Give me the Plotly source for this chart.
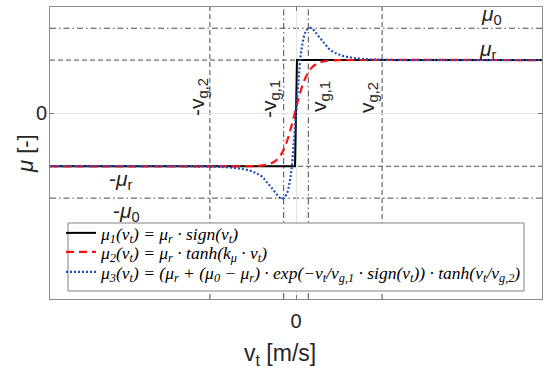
import plotly.graph_objects as go

# ---------------- data ----------------
mu_r = 0.5
mu_0 = 0.8
v_g1 = 0.015
v_g2 = 0.105
x_range = [-0.3, 0.3]
y_range = [-1.75, 1.0]
x_ticks = [0]
y_ticks = [0]

# mu_1 : sign model
v_sign = [-0.3, -0.0012, 0.0012, 0.3]
mu_sign = [-0.5, -0.5, 0.5, 0.5]

# mu_2 : tanh model
v_tanh = [-0.3, -0.06, -0.045, -0.035, -0.027, -0.020, -0.015, -0.010, -0.005, 0.0,
          0.005, 0.010, 0.015, 0.020, 0.027, 0.035, 0.045, 0.06, 0.3]
mu_tanh = [-0.5, -0.499, -0.496, -0.484, -0.46, -0.409, -0.342, -0.241, -0.107, 0.046,
           0.191, 0.306, 0.385, 0.435, 0.472, 0.489, 0.497, 0.5, 0.5]

# mu_3 : Stribeck-like model
v_exp = [-0.3, -0.13, -0.102, -0.087, -0.070, -0.057, -0.050, -0.041, -0.035, -0.029,
         -0.023, -0.020, -0.017, -0.0145, -0.011, -0.008, -0.0055, -0.003, 0.0,
         0.003, 0.0055, 0.008, 0.011, 0.0145, 0.017, 0.020, 0.023, 0.029, 0.035,
         0.041, 0.050, 0.057, 0.070, 0.087, 0.102, 0.13, 0.3]
mu_exp = [-0.5, -0.5, -0.503, -0.508, -0.52, -0.54, -0.56, -0.6, -0.655, -0.71,
          -0.77, -0.795, -0.805, -0.795, -0.755, -0.66, -0.53, -0.30, 0.0,
          0.30, 0.53, 0.66, 0.755, 0.795, 0.805, 0.795, 0.77, 0.71, 0.655,
          0.6, 0.56, 0.54, 0.52, 0.508, 0.503, 0.5, 0.5]

legend_labels = [
    "μ<sub>1</sub>(v<sub>t</sub>) = μ<sub>r</sub> · sign(v<sub>t</sub>)",
    "μ<sub>2</sub>(v<sub>t</sub>) = μ<sub>r</sub> · tanh(k<sub>μ</sub> · v<sub>t</sub>)",
    "μ<sub>3</sub>(v<sub>t</sub>) = (μ<sub>r</sub> + (μ<sub>0</sub> − μ<sub>r</sub>) · "
    "exp(−v<sub>t</sub>/v<sub>g,1</sub> · sign(v<sub>t</sub>)) · tanh(v<sub>t</sub>/v<sub>g,2</sub>)",
]

# ---------------- layout helpers ----------------
W, H = 550, 376
L, R, T, B = 50, 8, 7, 77
PW, PH = W - L - R, H - T - B


def px(x):
    return (x - L) / PW


def py(y):
    return (H - B - y) / PH


fig = go.Figure()
fig.add_trace(go.Scatter(x=v_sign, y=mu_sign, mode="lines", name=legend_labels[0],
                         legend="legend",
                         line=dict(color="black", width=2)))
fig.add_trace(go.Scatter(x=v_tanh, y=mu_tanh, mode="lines", name=legend_labels[1],
                         legend="legend2",
                         line=dict(color="#ff1010", width=2.2, dash="8px,5px", shape="spline")))
fig.add_trace(go.Scatter(x=v_exp, y=mu_exp, mode="lines", name=legend_labels[2],
                         legend="legend3",
                         line=dict(color="#1f4fbf", width=2.2, dash="2px,2px", shape="spline")))

ref_col = "#4a4a4a"
dash_s = "5px,3px"
dashdot_s = "6px,3px,1.5px,3px"
shapes = []
for lev in [mu_r, -mu_r]:
    shapes.append(dict(type="line", xref="paper", x0=0, x1=1, yref="y", y0=lev, y1=lev,
                       line=dict(color=ref_col, width=1, dash=dash_s), layer="below"))
for lev in [mu_0, -mu_0]:
    shapes.append(dict(type="line", xref="paper", x0=0, x1=1, yref="y", y0=lev, y1=lev,
                       line=dict(color=ref_col, width=1, dash=dashdot_s), layer="below"))
for v in [v_g2, -v_g2]:
    shapes.append(dict(type="line", yref="paper", y0=0, y1=1, xref="x", x0=v, x1=v,
                       line=dict(color=ref_col, width=1, dash=dash_s), layer="below"))
for v in [v_g1, -v_g1]:
    shapes.append(dict(type="line", yref="paper", y0=0, y1=1, xref="x", x0=v, x1=v,
                       line=dict(color=ref_col, width=1, dash=dashdot_s), layer="below"))
# legend frame (white box that hides the lines behind the legend)
shapes.append(dict(type="rect", xref="paper", yref="paper",
                   x0=px(68), x1=px(524), y0=py(291), y1=py(223),
                   fillcolor="white", line=dict(color="#808080", width=1), layer="above"))

sans = "Liberation Sans, Arial, sans-serif"
tcol = "#262626"
afont = dict(family=sans, size=21, color=tcol)

annotations = []
# horizontal level labels
for txt, cx, cy in [("<i>μ</i><sub>0</sub>", 491, 15), ("<i>μ</i><sub>r</sub>", 488, 50),
                    ("-<i>μ</i><sub>r</sub>", 121, 180), ("-<i>μ</i><sub>0</sub>", 126, 212)]:
    annotations.append(dict(text=txt, x=px(cx), y=py(cy), xref="paper", yref="paper",
                            xanchor="center", yanchor="middle", showarrow=False, font=afont))
# vertical velocity labels (rotated)
for txt, cx, cy in [("-v<sub>g,2</sub>", 198, 97), ("-v<sub>g,1</sub>", 270, 99),
                    ("v<sub>g,1</sub>", 320, 97), ("v<sub>g,2</sub>", 368, 98)]:
    annotations.append(dict(text=txt, x=px(cx), y=py(cy), xref="paper", yref="paper",
                            xanchor="center", yanchor="middle", showarrow=False,
                            textangle=-90, font=afont))
# axis titles
annotations.append(dict(text="v<sub>t</sub> [m/s]", x=px(280), y=py(355), xref="paper",
                        yref="paper", xanchor="center", yanchor="middle", showarrow=False,
                        font=dict(family=sans, size=23, color=tcol)))
annotations.append(dict(text="<i>μ</i> [-]", x=px(25), y=py(154), xref="paper",
                        yref="paper", xanchor="center", yanchor="middle", showarrow=False,
                        textangle=-90, font=dict(family=sans, size=22, color=tcol)))

axis_common = dict(showgrid=True, gridcolor="#e4e4e4", gridwidth=1, zeroline=False,
                   showline=True, linecolor="#8a8a8a", linewidth=1, mirror="ticks",
                   ticks="inside", ticklen=4, tickcolor="#777777", automargin=False,
                   tickfont=dict(family=sans, size=20, color=tcol))

leg_font = dict(family="Liberation Serif, serif", size=17.5, color="black", style="italic")
leg_common = dict(xanchor="left", yanchor="middle", bgcolor="rgba(0,0,0,0)",
                  borderwidth=0, font=leg_font, itemwidth=30)

fig.update_layout(
    template="none",
    width=W, height=H, autosize=False,
    margin=dict(l=L, r=R, t=T, b=B),
    paper_bgcolor="white", plot_bgcolor="white",
    xaxis=dict(range=x_range, tickvals=x_ticks, ticktext=[str(t) for t in x_ticks],
               ticklabelstandoff=4, **axis_common),
    yaxis=dict(range=y_range, tickvals=y_ticks, ticktext=[str(t) for t in y_ticks],
               ticklabelstandoff=-2, **axis_common),
    shapes=shapes,
    annotations=annotations,
    showlegend=True,
    legend=dict(x=px(61), y=py(233), **leg_common),
    legend2=dict(x=px(61), y=py(252), **leg_common),
    legend3=dict(x=px(61), y=py(272), **leg_common),
)

fig.write_html("out.html", config={"displayModeBar": False},
               post_script="document.body.style.margin='0';")
